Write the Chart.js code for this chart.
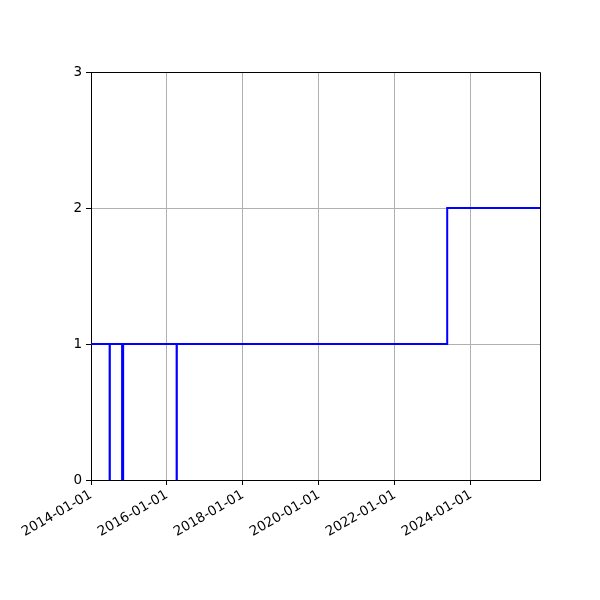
<!DOCTYPE HTML>
<html>
<head>
    <title>Step Chart</title>
    <meta charset="utf-8">
    <script src="https://cdn.jsdelivr.net/npm/chart.js@4.4.1/dist/chart.umd.min.js"></script>
    <style>
        html, body { margin: 0; padding: 0; background: #fff; }
        .wrap { position: relative; width: 600px; height: 600px; }
    </style>
</head>
<body>
    <div class="wrap">
        <canvas id="step-chart" width="600" height="600"></canvas>
    </div>
    <script>
        // dates where the level changes, and the level held from that date on
        var changeDates = ['2014-01-01', '2014-06-29', '2014-07-01', '2014-10-27', '2014-11-06',
                           '2016-04-03', '2016-04-05', '2023-05-18', '2025-10-26'];
        var levels = [1, 0, 1, 0, 1, 0, 1, 2, 2];

        var tickDates = ['2014-01-01', '2016-01-01', '2018-01-01', '2020-01-01', '2022-01-01', '2024-01-01'];
        var yTicks = [0, 1, 2, 3];

        function ms(d) { return Date.parse(d + 'T00:00:00Z'); }
        function fmt(v) { return new Date(v).toISOString().slice(0, 10); }

        var points = changeDates.map(function (d, i) { return { x: ms(d), y: levels[i] }; });

        // top and right spines
        var frame = {
            id: 'frame',
            afterDraw: function (chart) {
                var a = chart.chartArea, ctx = chart.ctx;
                ctx.save();
                ctx.strokeStyle = '#000';
                ctx.lineWidth = 1;
                ctx.beginPath();
                ctx.moveTo(a.left, a.top + 0.5);
                ctx.lineTo(a.right + 0.5, a.top + 0.5);
                ctx.lineTo(a.right + 0.5, a.bottom);
                ctx.stroke();
                ctx.restore();
            }
        };

        var font = { family: 'DejaVu Sans', size: 13.5 };

        new Chart(document.getElementById('step-chart'), {
            type: 'line',
            data: {
                datasets: [{
                    data: points,
                    borderColor: '#0000ff',
                    borderWidth: 2,
                    pointRadius: 0,
                    stepped: 'before',
                    fill: false
                }]
            },
            options: {
                responsive: false,
                animation: false,
                layout: { padding: { left: 0, top: 72, right: 60, bottom: 0 } },
                plugins: { legend: { display: false }, tooltip: { enabled: false } },
                scales: {
                    x: {
                        type: 'linear',
                        min: ms(changeDates[0]),
                        max: ms(changeDates[changeDates.length - 1]),
                        afterBuildTicks: function (s) {
                            s.ticks = tickDates.map(function (d) { return { value: ms(d) }; });
                        },
                        afterFit: function (s) { s.height = 120; },
                        ticks: {
                            callback: function (v) { return fmt(v); },
                            color: '#000',
                            font: font,
                            minRotation: 30,
                            maxRotation: 30,
                            padding: 2,
                            autoSkip: false
                        },
                        grid: { color: '#b0b0b0', tickColor: '#000', tickLength: 5, lineWidth: 1 },
                        border: { color: '#000', width: 1 }
                    },
                    y: {
                        min: 0,
                        max: 3,
                        afterBuildTicks: function (s) {
                            s.ticks = yTicks.map(function (v) { return { value: v }; });
                        },
                        afterFit: function (s) { s.width = 91; },
                        ticks: { color: '#000', font: font, padding: 4 },
                        grid: { color: '#b0b0b0', tickColor: '#000', tickLength: 5, lineWidth: 1 },
                        border: { color: '#000', width: 1 }
                    }
                }
            },
            plugins: [frame]
        });
    </script>
</body>
</html>
